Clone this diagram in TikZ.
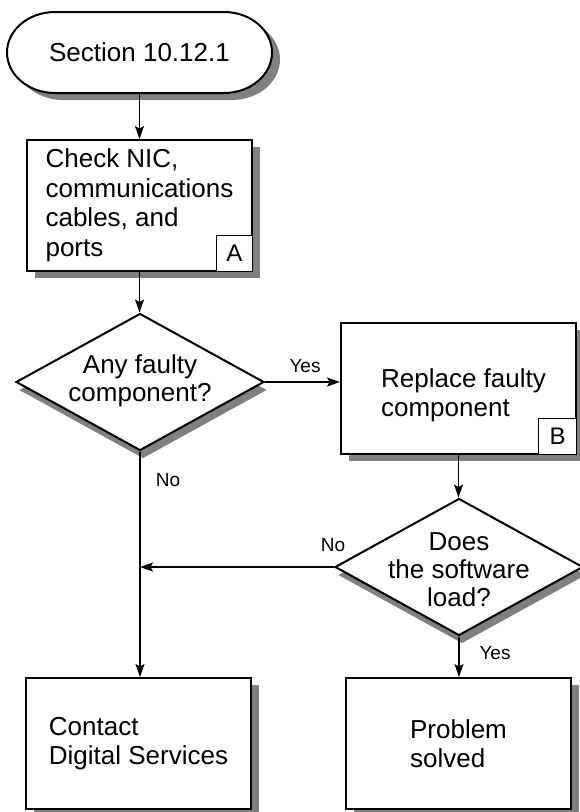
\documentclass[tikz,border=0pt]{standalone}
\usepackage{fontspec}
\setmainfont{Liberation Sans}
\usetikzlibrary{shapes.geometric,shadows,arrows.meta,calc}
\definecolor{shadowgray}{HTML}{808080}
\newcommand\mainfs{\fontsize{26}{29.5}\selectfont}
\newcommand\diafs{\fontsize{26}{28}\selectfont}
\newcommand\labfs{\fontsize{19}{22}\selectfont}
\newcommand\tagfs{\fontsize{24}{26}\selectfont}
\begin{document}
\begin{tikzpicture}[x=1pt,y=-1pt,
  boxshape/.style={draw, line width=2pt, fill=white, minimum width=225pt, minimum height=131pt,
    inner sep=0pt, align=left, font=\mainfs,
    drop shadow={shadow xshift=8pt, shadow yshift=-7pt, fill=shadowgray, opacity=1}},
  tagbox/.style={draw, line width=1pt, fill=white, minimum width=36pt, minimum height=36pt,
    inner sep=0pt, font=\tagfs, anchor=south east},
  diam/.style={draw, diamond, line width=2pt, fill=white, minimum width=248pt, minimum height=137pt,
    inner sep=0pt,
    drop shadow={shadow xshift=3pt, shadow yshift=-8pt, fill=shadowgray, opacity=1}},
  diatext/.style={align=center, font=\diafs, inner sep=0pt},
  conn/.style={line width=1.1pt},
  arr/.style={conn, -{Stealth[length=13pt,width=9pt,inset=2.5pt]}},
  lab/.style={font=\labfs, inner sep=0pt}
]
\useasboundingbox (0,0) rectangle (579,812);

% terminal
\fill[shadowgray, shift={(8,7)}] (55,12) -- (224,12)
  arc[start angle=90, end angle=-90, x radius=48pt, y radius=40.5pt] -- (55,93)
  arc[start angle=270, end angle=90, x radius=48pt, y radius=40.5pt] -- cycle;
\draw[line width=2pt, fill=white] (55,12) -- (224,12)
  arc[start angle=90, end angle=-90, x radius=48pt, y radius=40.5pt] -- (55,93)
  arc[start angle=270, end angle=90, x radius=48pt, y radius=40.5pt] -- cycle;
\node[inner sep=0pt, minimum width=265pt, minimum height=81pt, font=\mainfs] (t) at (139.5,52.5) {Section 10.12.1};

% boxes
\node[boxshape] (c1) at (139.5,205.5) {Check NIC,\\communications\\cables, and\\ports};
\node[tagbox] (ta) at (c1.south east) {A};

\node[boxshape, minimum width=235pt] (rb) at (458.5,388.5) {};
\node[align=left, font=\mainfs, inner sep=0pt] (rbt) at (463.5,395.5) {Replace faulty\\component};
\node[tagbox, minimum width=38pt] (tb) at (rb.south east) {B};

\node[boxshape] (cd) at (138.5,743.5) {Contact\\Digital Services};
\node[boxshape] (ps) at (458.5,743.5) {Problem\\solved};

% decisions
\node[diam] (d1) at (140,382) {};
\node[diatext] (d1t) at (140,381) {Any faulty\\component?};
\node[diam] (d2) at (459,567) {};
\node[diatext] (d2t) at (459,570) {Does\\the software\\load?};

% connectors
\draw[arr] (t.south) -- (t.south |- c1.north);
\draw[arr] (c1.south) -- (c1.south |- d1.north);
\draw[arr] (d1.east) -- (d1.east -| rb.west);
\draw[arr] (rb.south) -- (rb.south |- d2.north);
\draw[arr] (d1.south) -- (d1.south |- cd.north);
\draw[arr] (d2.west) -- (d2.west -| d1.south);
\draw[arr] (d2.south) -- (d2.south |- ps.north);

% labels
\node[lab] (ly1) at (305,366) {Yes};
\node[lab] (ln1) at (168,480) {No};
\node[lab] (ln2) at (333,545) {No};
\node[lab] (ly2) at (495,653) {Yes};
\end{tikzpicture}
\end{document}
